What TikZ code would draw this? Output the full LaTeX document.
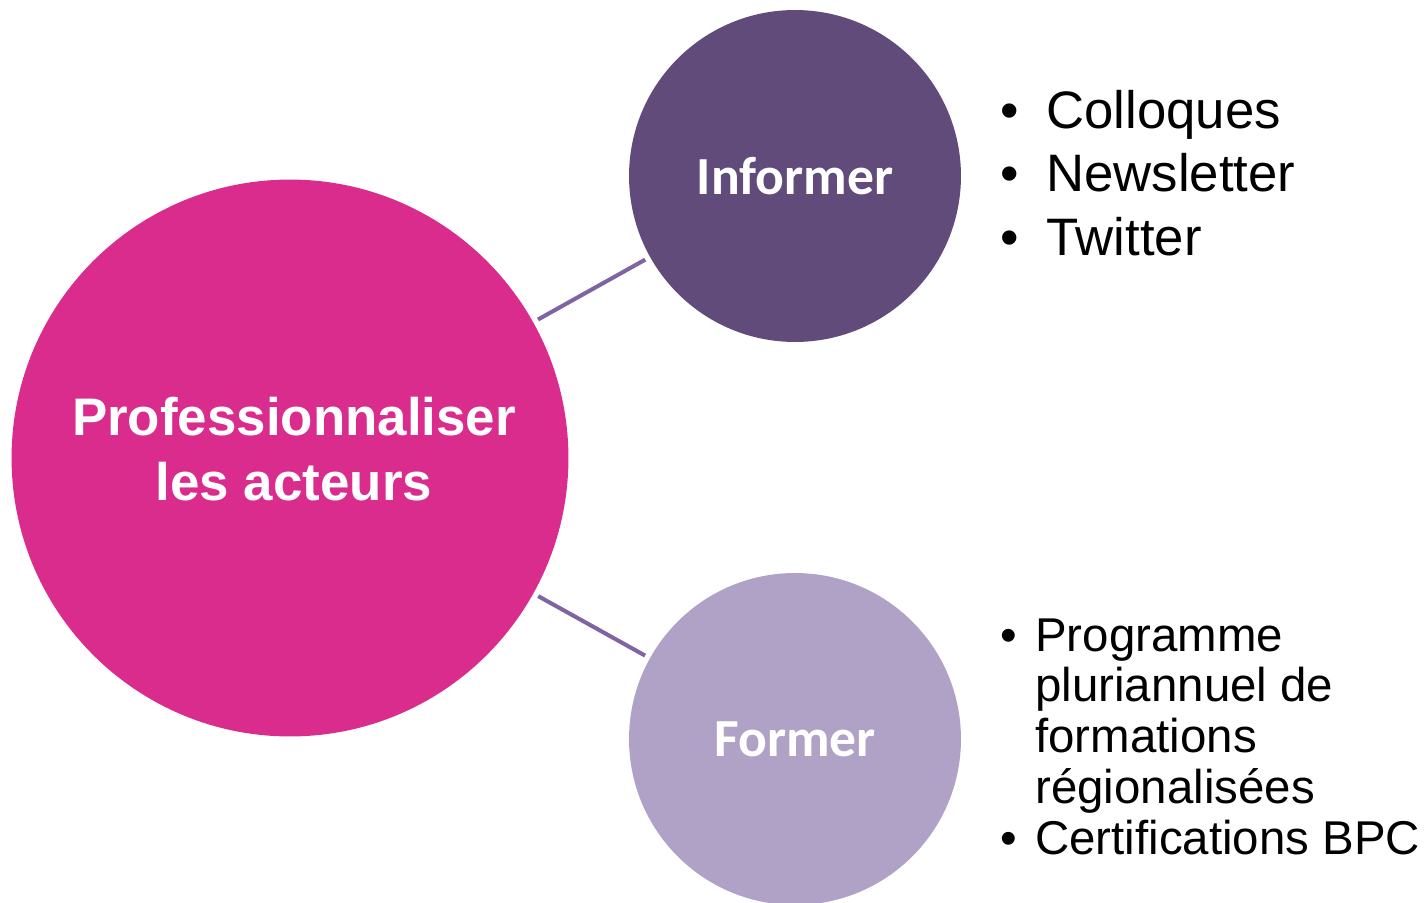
\documentclass[tikz,border=0pt]{standalone}
\usepackage{fontspec}
\setmainfont{Liberation Sans}
\newfontfamily\calibri{Carlito}
\usetikzlibrary{positioning}

\definecolor{pinkmain}{RGB}{218,44,140}
\definecolor{violetdark}{RGB}{96,75,123}
\definecolor{violetlight}{RGB}{176,161,199}
\definecolor{violetline}{RGB}{128,100,162}

\tikzset{
	bigdisc/.style = {circle, fill = #1, draw = none,
					  text = white, inner sep = 0pt},
	link/.style = {violetline, line width = 2.3pt,
				   shorten < = 3, shorten > = 3}
}

\begin{document}
\begin{tikzpicture}[x = 0.02cm, y = -0.02cm]

	\useasboundingbox (0,0) rectangle (1428,903);

	\draw (290,458) node[bigdisc = pinkmain,
					 minimum size = 11.14cm] (prof) {};

	\draw (294,449) node[text = white,
					 align = center,
					 font = \bfseries\fontsize{30.1}{37}\selectfont] (proftext)
					 {Professionnaliser\\les acteurs};

	\draw (795,176) node[bigdisc = violetdark,
					 minimum size = 6.64cm,
					 font = \calibri\bfseries\fontsize{30.5}{36}\selectfont] (inform)
					 {Informer};

	\draw (795,739) node[bigdisc = violetlight,
					 minimum size = 6.64cm,
					 font = \calibri\bfseries\fontsize{30.5}{36}\selectfont] (form)
					 {Former};

	\draw[link] (prof) -- (inform);
	\draw[link] (prof) -- (form);

	% bullet lists
	\draw (1000,128) node[anchor = base west,
					 inner sep = 0pt,
					 font = \fontsize{30}{36.3}\selectfont] (infolist)
					 {\begin{tabular}[t]{@{}p{0.92cm}@{}l@{}}
					  \textbullet & Colloques\\
					  \textbullet & Newsletter\\
					  \textbullet & Twitter
					  \end{tabular}};

	\draw (1000,651) node[anchor = base west,
					 inner sep = 0pt,
					 font = \fontsize{27}{29}\selectfont] (formlist)
					 {\begin{tabular}[t]{@{}p{0.7cm}@{}l@{}}
					  \textbullet & Programme\\
					  & pluriannuel de\\
					  & formations\\
					  & régionalisées\\
					  \textbullet & Certifications BPC
					  \end{tabular}};
\end{tikzpicture}
\end{document}
